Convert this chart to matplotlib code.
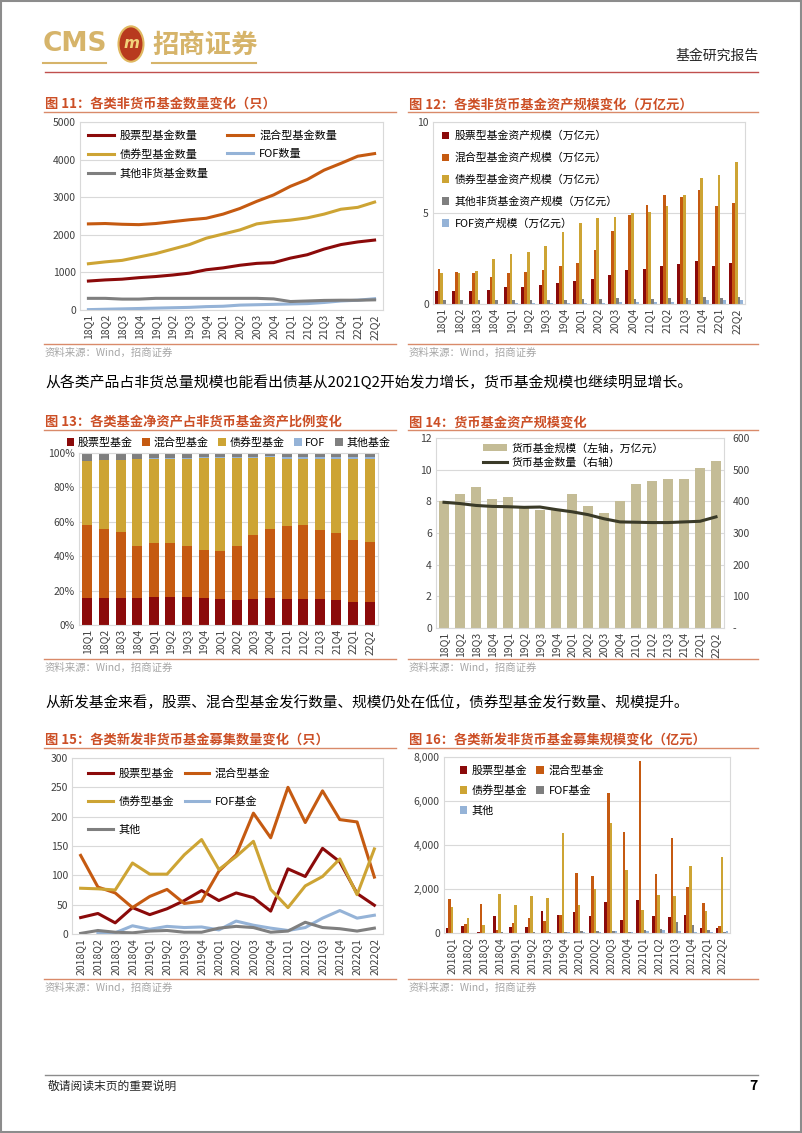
import numpy as np
import matplotlib
matplotlib.use('Agg')
import matplotlib.pyplot as plt
from matplotlib.patches import Rectangle, Circle
from matplotlib.lines import Line2D
from matplotlib.ticker import FuncFormatter

plt.rcParams['font.family'] = ['Noto Sans CJK SC', 'DejaVu Sans']
plt.rcParams['axes.unicode_minus'] = False

W, H = 802, 1133

quarters = ['18Q1', '18Q2', '18Q3', '18Q4', '19Q1', '19Q2', '19Q3', '19Q4', '20Q1',
            '20Q2', '20Q3', '20Q4', '21Q1', '21Q2', '21Q3', '21Q4', '22Q1', '22Q2']
quarters_long = ['2018Q1', '2018Q2', '2018Q3', '2018Q4', '2019Q1', '2019Q2', '2019Q3', '2019Q4', '2020Q1',
                 '2020Q2', '2020Q3', '2020Q4', '2021Q1', '2021Q2', '2021Q3', '2021Q4', '2022Q1', '2022Q2']

# fig 11: fund counts
cnt_stock = [770, 800, 820, 860, 890, 930, 980, 1070, 1120, 1190, 1240, 1260, 1380, 1470, 1620, 1740, 1810, 1860]
cnt_mixed = [2290, 2300, 2280, 2270, 2300, 2350, 2400, 2440, 2550, 2700, 2890, 3060, 3290, 3470, 3720, 3900, 4090, 4160]
cnt_bond = [1230, 1280, 1320, 1410, 1500, 1620, 1740, 1910, 2020, 2130, 2290, 2350, 2390, 2450, 2550, 2680, 2730, 2870]
cnt_fof = [10, 20, 30, 40, 50, 60, 70, 90, 100, 130, 140, 150, 160, 170, 200, 240, 260, 300]
cnt_other = [310, 310, 290, 290, 310, 310, 310, 310, 310, 310, 310, 295, 225, 240, 255, 260, 260, 270]

# fig 12: asset size (trillion yuan)
aum_stock = [0.69, 0.70, 0.70, 0.75, 0.91, 0.95, 1.02, 1.16, 1.28, 1.38, 1.62, 1.88, 1.95, 2.10, 2.20, 2.35, 2.08, 2.24]
aum_mixed = [1.92, 1.75, 1.70, 1.48, 1.73, 1.75, 1.86, 2.08, 2.28, 2.94, 4.03, 4.87, 5.44, 5.99, 5.89, 6.24, 5.36, 5.55]
aum_bond = [1.68, 1.73, 1.84, 2.46, 2.72, 2.83, 3.21, 3.94, 4.47, 4.73, 4.76, 5.02, 5.04, 5.36, 6.00, 6.95, 7.08, 7.81]
aum_other = [0.22, 0.22, 0.22, 0.20, 0.22, 0.22, 0.22, 0.22, 0.25, 0.30, 0.33, 0.30, 0.25, 0.32, 0.35, 0.40, 0.35, 0.40]
aum_fof = [0.01, 0.01, 0.02, 0.02, 0.03, 0.04, 0.05, 0.06, 0.07, 0.08, 0.10, 0.10, 0.12, 0.13, 0.20, 0.22, 0.20, 0.22]

# fig 13: share of non-money fund assets (%)
pct_stock = [15.5, 15.8, 15.8, 15.5, 16.0, 16.5, 16.0, 15.5, 15.0, 14.5, 15.0, 15.5, 15.0, 15.0, 15.0, 14.5, 13.5, 13.5]
pct_mixed = [42.8, 40.3, 38.0, 30.3, 31.4, 30.9, 29.8, 28.2, 27.9, 31.3, 37.4, 40.4, 42.5, 43.4, 40.3, 38.9, 35.8, 34.7]
pct_bond = [36.8, 39.6, 42.1, 50.7, 49.3, 49.2, 50.9, 53.3, 54.1, 51.2, 44.6, 41.6, 39.3, 38.4, 41.0, 43.2, 47.0, 48.2]
pct_fof = [0.1, 0.1, 0.1, 0.2, 0.2, 0.3, 0.3, 0.4, 0.5, 0.6, 0.6, 0.7, 0.9, 1.0, 1.2, 1.3, 1.4, 1.3]
pct_other = [4.8, 4.2, 4.0, 3.3, 3.1, 3.1, 3.0, 2.6, 2.5, 2.4, 2.4, 1.8, 2.3, 2.2, 2.5, 2.1, 2.3, 2.3]

# fig 14: money funds
mmf_size = [8.0, 8.46, 8.9, 8.17, 8.3, 7.7, 7.47, 7.5, 8.46, 7.73, 7.28, 8.04, 9.09, 9.26, 9.43, 9.43, 10.1, 10.57]
mmf_count = [397, 393, 387, 384, 383, 381, 382, 374, 367, 358, 345, 335, 334, 333, 333, 335, 337, 351]

# fig 15: new fund issuance count
new_stock = [28, 35, 19, 45, 33, 43, 57, 74, 57, 70, 62, 39, 111, 98, 146, 123, 69, 49]
new_mixed = [134, 80, 70, 45, 64, 76, 52, 56, 107, 135, 206, 164, 250, 190, 244, 195, 191, 97]
new_bond = [78, 77, 75, 121, 102, 102, 135, 161, 110, 132, 158, 76, 45, 82, 98, 128, 67, 145]
new_fof = [np.nan, 2, 2, 14, 8, 13, 11, 12, 7, 22, 15, 10, 6, 11, 27, 40, 27, 32]
new_other = [1, 6, 3, 2, 5, 6, 3, 3, 10, 13, 11, 3, 5, 20, 11, 9, 5, 10]

# fig 16: new fund issuance size (100m yuan)
raise_stock = [240, 300, 60, 770, 270, 290, 1000, 820, 970, 760, 1390, 610, 1500, 770, 730, 800, 210, 210]
raise_mixed = [1560, 390, 1330, 150, 470, 670, 530, 820, 2740, 2610, 6360, 4600, 7830, 2700, 4300, 2080, 1350, 330]
raise_bond = [1180, 700, 380, 1790, 1260, 1670, 1610, 4550, 1290, 2020, 5000, 2880, 1060, 1710, 1670, 3060, 990, 3460]
raise_fof = [0, 10, 10, 30, 20, 40, 30, 60, 80, 100, 80, 60, 150, 180, 480, 360, 140, 60]
raise_other = [10, 20, 10, 20, 10, 20, 10, 60, 60, 40, 80, 30, 100, 130, 80, 40, 40, 80]

C_STOCK = '#8B0A0A'
C_MIXED = '#C55A11'
C_BOND = '#CDA434'
C_FOF = '#95B3D7'
C_OTHER = '#7F7F7F'
C_TITLE = '#CC4F26'
C_RULE = '#D98A6A'
C_GRID = '#D9D9D9'
C_TICK = '#404040'

fig = plt.figure(figsize=(W / 100, H / 100), dpi=100)


def ax_px(l, t, r, b):
    return fig.add_axes([l / W, 1 - b / H, (r - l) / W, (b - t) / H])


def txt(x, y, s, **kw):
    kw.setdefault('va', 'center')
    fig.text(x / W, 1 - y / H, s, **kw)


def hline(x0, x1, y, color, lw=1.0):
    fig.add_artist(Line2D([x0 / W, x1 / W], [1 - y / H, 1 - y / H], color=color, lw=lw))


def style(ax, labels):
    for s in ax.spines.values():
        s.set_color(C_GRID)
        s.set_linewidth(0.8)
    ax.tick_params(length=0, labelsize=7.5, colors=C_TICK, pad=3)
    ax.yaxis.grid(True, color=C_GRID, lw=0.8)
    ax.set_axisbelow(True)
    ax.set_xticks(range(len(labels)))
    ax.set_xticklabels(labels, rotation=90)
    ax.set_xlim(-0.5, len(labels) - 0.5)


def panel_frame(x0, x1, title, y_title, y_src):
    txt(x0 + 1, y_title, title, fontsize=9.5, fontweight='bold', color=C_TITLE)
    hline(x0, x1, y_title + 8, C_RULE, 1.0)
    hline(x0, x1, y_src - 9, C_RULE, 1.0)
    txt(x0 + 1, y_src, '资料来源：Wind，招商证券', fontsize=7.5, color='#A6A6A6')


# page border
fig.add_artist(Rectangle((0.001, 0.001), 0.998, 0.998, transform=fig.transFigure,
                         fill=False, edgecolor='#8C8C8C', lw=1.5))

# header
txt(43, 44, 'CMS', fontsize=19, color='#D6B46A', fontweight='bold', family=['DejaVu Sans'])
hline(43, 106, 63, '#D6B46A', 1.5)
fig.add_artist(Circle((131 / W, 1 - 44 / H), 12.5 / W, transform=fig.transFigure,
                      facecolor='#B83A1E', edgecolor='#E0B860', lw=1.5))
txt(131, 44, 'm', fontsize=11, color='#F2D27A', fontweight='bold', style='italic',
    ha='center', family=['DejaVu Sans'])
txt(152, 45, '招商证券', fontsize=19, color='#D6B46A', fontweight='bold')
hline(152, 256, 63, '#D6B46A', 1.5)
txt(759, 56, '基金研究报告', fontsize=10, color='#262626', ha='right')
hline(45, 758, 72, '#C0504D', 1.0)

# footer
hline(45, 758, 1075, '#8C8C8C', 1.0)
txt(48, 1086, '敬请阅读末页的重要说明', fontsize=8.5, color='#262626')
txt(758, 1086, '7', fontsize=10, color='#000000', fontweight='bold', ha='right')

# paragraphs
txt(45, 382, '从各类产品占非货总量规模也能看出债基从2021Q2开始发力增长，货币基金规模也继续明显增长。',
    fontsize=10.7, color='#000000')
txt(45, 703, '从新发基金来看，股票、混合型基金发行数量、规模仍处在低位，债券型基金发行数量、规模提升。',
    fontsize=10.5, color='#000000')

x = np.arange(len(quarters))

# ---------- fig 11 ----------
panel_frame(44, 396, '图 11：各类非货币基金数量变化（只）', 104, 353)
ax = ax_px(80, 122, 383, 310)
style(ax, quarters)
h1, = ax.plot(x, cnt_stock, color=C_STOCK, lw=2.2)
h2, = ax.plot(x, cnt_mixed, color=C_MIXED, lw=2.2)
h3, = ax.plot(x, cnt_bond, color=C_BOND, lw=2.2)
h4, = ax.plot(x, cnt_fof, color=C_FOF, lw=2.2)
h5, = ax.plot(x, cnt_other, color=C_OTHER, lw=2.2)
ax.set_ylim(0, 5000)
ax.set_yticks(range(0, 5001, 1000))
ax.legend([h1, h3, h5, h2, h4], ['股票型基金数量', '债券型基金数量', '其他非货基金数量', '混合型基金数量', 'FOF数量'],
          ncol=2, loc='upper left', bbox_to_anchor=(0.0, 1.0), frameon=False, fontsize=8,
          handlelength=2.4, handletextpad=0.5, labelspacing=0.75, columnspacing=1.6,
          borderaxespad=0.3)

# ---------- fig 12 ----------
panel_frame(408, 758, '图 12：各类非货币基金资产规模变化（万亿元）', 104, 353)
ax = ax_px(433, 122, 745, 304)
style(ax, quarters)
bw = 0.16
series12 = [(aum_stock, C_STOCK, '股票型基金资产规模（万亿元）'),
            (aum_mixed, C_MIXED, '混合型基金资产规模（万亿元）'),
            (aum_bond, C_BOND, '债券型基金资产规模（万亿元）'),
            (aum_other, C_OTHER, '其他非货基金资产规模（万亿元）'),
            (aum_fof, C_FOF, 'FOF资产规模（万亿元）')]
for i, (vals, c, lab) in enumerate(series12):
    ax.bar(x + (i - 2) * bw, vals, width=bw, color=c, label=lab)
ax.set_ylim(0, 10)
ax.set_yticks([0, 5, 10])
ax.legend(loc='upper left', bbox_to_anchor=(0.0, 1.0), frameon=False, fontsize=7.8,
          handlelength=0.7, handleheight=0.7, handletextpad=0.5, labelspacing=1.05,
          borderaxespad=0.4)

# ---------- fig 13 ----------
panel_frame(44, 396, '图 13：各类基金净资产占非货币基金资产比例变化', 422, 668)
ax = ax_px(79, 453, 378, 625)
style(ax, quarters)
bottom = np.zeros(len(quarters))
series13 = [(pct_stock, C_STOCK, '股票型基金'), (pct_mixed, C_MIXED, '混合型基金'),
            (pct_bond, C_BOND, '债券型基金'), (pct_fof, C_FOF, 'FOF'), (pct_other, C_OTHER, '其他基金')]
for vals, c, lab in series13:
    ax.bar(x, vals, bottom=bottom, width=0.6, color=c, label=lab)
    bottom += np.array(vals)
ax.set_ylim(0, 100)
ax.set_yticks(range(0, 101, 20))
ax.yaxis.set_major_formatter(FuncFormatter(lambda v, p: f'{v:.0f}%'))
ax.legend(ncol=5, loc='lower center', bbox_to_anchor=(0.5, 1.0), frameon=False, fontsize=7.9,
          handlelength=0.7, handleheight=0.7, handletextpad=0.3, columnspacing=0.9,
          borderaxespad=0.1)

# ---------- fig 14 ----------
panel_frame(408, 758, '图 14：货币基金资产规模变化', 422, 668)
ax = ax_px(436, 438, 724, 628)
style(ax, quarters)
b = ax.bar(x, mmf_size, width=0.58, color='#C4BC96')
ax.set_ylim(0, 12)
ax.set_yticks(range(0, 13, 2))
ax2 = ax.twinx()
l, = ax2.plot(x, mmf_count, color='#3A3A28', lw=2.2)
ax2.set_ylim(0, 600)
ax2.set_yticks(range(0, 601, 100))
ax2.set_yticklabels(['-'] + [str(v) for v in range(100, 601, 100)])
ax2.tick_params(length=0, labelsize=7.5, colors=C_TICK, pad=6)
for s in ax2.spines.values():
    s.set_visible(False)
ax2.legend([b, l], ['货币基金规模（左轴，万亿元）', '货币基金数量（右轴）'], loc='upper left',
           bbox_to_anchor=(0.13, 1.025), frameon=False, fontsize=7.8, handlelength=2.2,
           handletextpad=0.4, labelspacing=0.35)

# ---------- fig 15 ----------
panel_frame(44, 396, '图 15：各类新发非货币基金募集数量变化（只）', 740, 988)
ax = ax_px(72, 758, 383, 934)
style(ax, quarters_long)
g1, = ax.plot(x, new_stock, color=C_STOCK, lw=2.2)
g2, = ax.plot(x, new_mixed, color=C_MIXED, lw=2.2)
g3, = ax.plot(x, new_bond, color=C_BOND, lw=2.2)
g4, = ax.plot(x, new_fof, color=C_FOF, lw=2.2)
g5, = ax.plot(x, new_other, color=C_OTHER, lw=2.2)
ax.set_ylim(0, 300)
ax.set_yticks(range(0, 301, 50))
ax.legend([g1, g3, g5, g2, g4], ['股票型基金', '债券型基金', '其他', '混合型基金', 'FOF基金'],
          ncol=2, loc='upper left', bbox_to_anchor=(0.02, 1.0), frameon=False, fontsize=8,
          handlelength=2.2, handletextpad=0.5, labelspacing=1.6, columnspacing=1.0)

# ---------- fig 16 ----------
panel_frame(408, 758, '图 16：各类新发非货币基金募集规模变化（亿元）', 740, 988)
ax = ax_px(444, 757, 730, 933)
style(ax, quarters_long)
series16 = [(raise_stock, C_STOCK, '股票型基金'), (raise_mixed, C_MIXED, '混合型基金'),
            (raise_bond, C_BOND, '债券型基金'), (raise_fof, C_OTHER, 'FOF基金'),
            (raise_other, C_FOF, '其他')]
hs = []
for i, (vals, c, lab) in enumerate(series16):
    hs.append(ax.bar(x + (i - 2) * bw, vals, width=bw, color=c, label=lab))
ax.set_ylim(0, 8000)
ax.set_yticks(range(0, 8001, 2000))
ax.yaxis.set_major_formatter(FuncFormatter(lambda v, p: f'{v:,.0f}'))
ax.legend([hs[0], hs[2], hs[4], hs[1], hs[3]], ['股票型基金', '债券型基金', '其他', '混合型基金', 'FOF基金'],
          ncol=2, loc='upper left', bbox_to_anchor=(0.02, 1.01), frameon=False, fontsize=8,
          handlelength=0.7, handleheight=0.7, handletextpad=0.4, labelspacing=0.85, columnspacing=0.8)

fig.savefig('out.png', dpi=100)
